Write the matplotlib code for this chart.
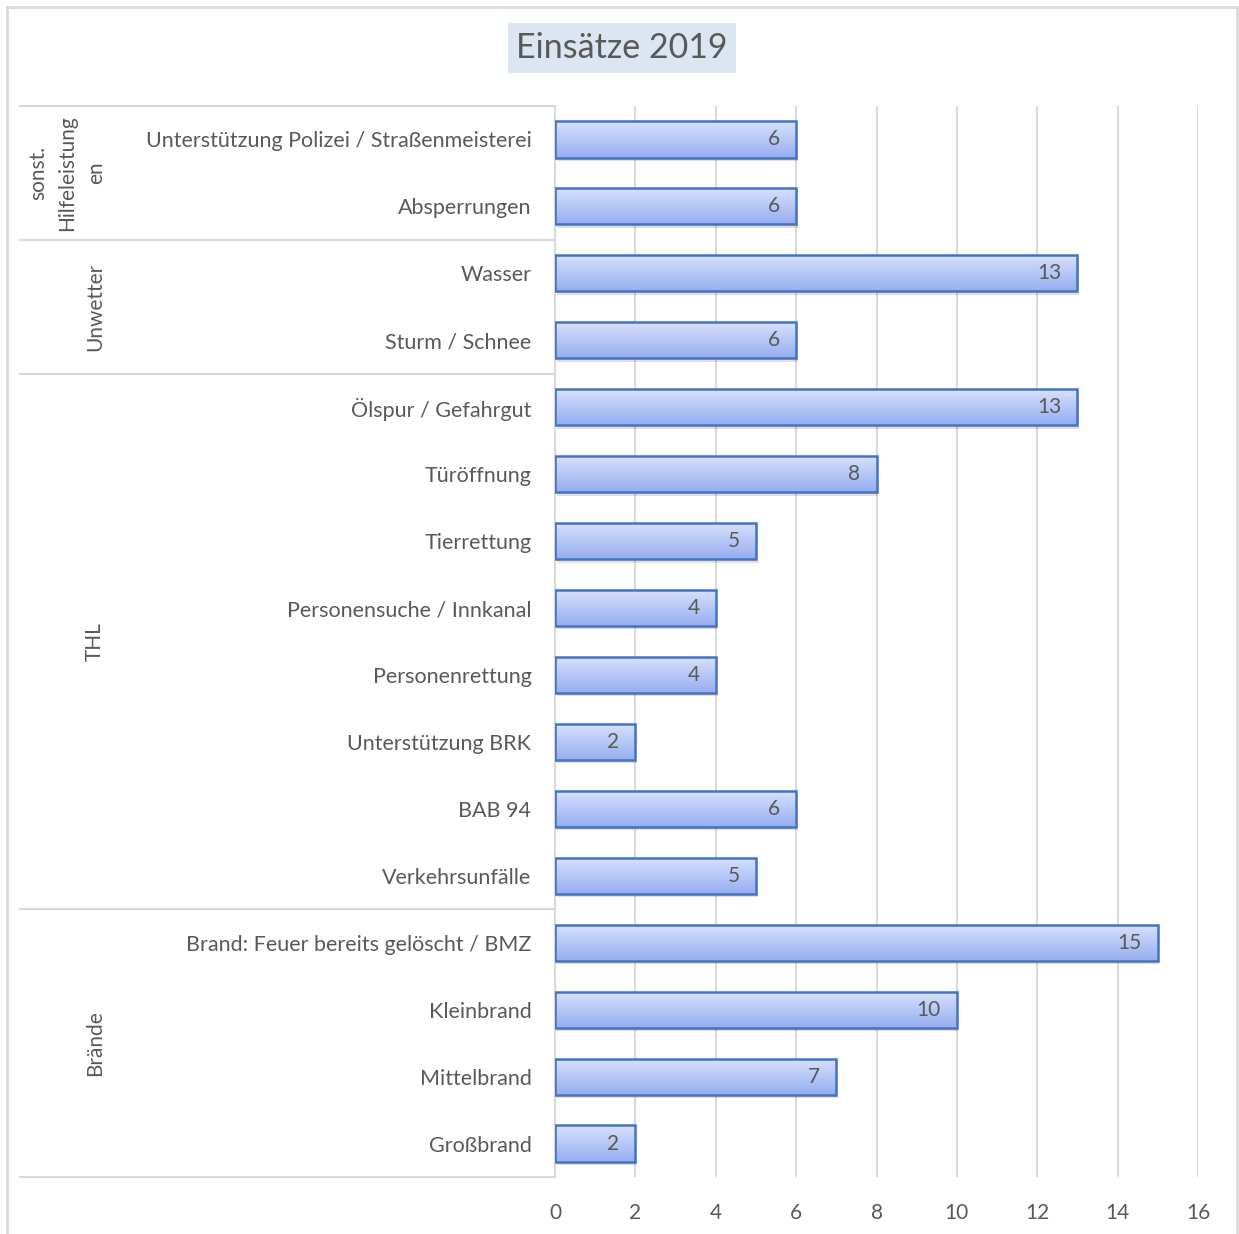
import numpy as np
import matplotlib.pyplot as plt
from matplotlib.patches import Rectangle
from matplotlib.colors import LinearSegmentedColormap
from matplotlib.transforms import blended_transform_factory

plt.rcParams['font.family'] = ['Lato', 'DejaVu Sans']

# categories from bottom to top
categories = ['Großbrand', 'Mittelbrand', 'Kleinbrand', 'Brand: Feuer bereits gelöscht / BMZ',
              'Verkehrsunfälle', 'BAB 94', 'Unterstützung BRK', 'Personenrettung',
              'Personensuche / Innkanal', 'Tierrettung', 'Türöffnung', 'Ölspur / Gefahrgut',
              'Sturm / Schnee', 'Wasser',
              'Absperrungen', 'Unterstützung Polizei / Straßenmeisterei']
values = [2, 7, 10, 15, 5, 6, 2, 4, 4, 5, 8, 13, 6, 13, 6, 6]
groups = ['Brände', 'THL', 'Unwetter', 'sonst.\nHilfeleistung\nen']
group_sizes = [4, 8, 2, 2]
xticks = [0, 2, 4, 6, 8, 10, 12, 14, 16]

W, H = 1239, 1234
text_gray = '#595959'
line_gray = '#d9d9d9'

fig = plt.figure(figsize=(W / 100, H / 100), dpi=100)
ax = fig.add_axes([555 / W, 1 - 1177 / H, (1198 - 555) / W, (1177 - 106) / H])

y = np.arange(len(categories))
bars = ax.barh(y, values, height=0.54, color='none', edgecolor='#4472c4', linewidth=1.8, zorder=3)

# vertical gradient inside each bar
cmap = LinearSegmentedColormap.from_list('bar', ['#96aef0', '#d8e2fc'])
grad = np.linspace(0, 1, 64).reshape(-1, 1)
for b, v in zip(bars, values):
    x0, y0 = b.get_x(), b.get_y()
    w, h = b.get_width(), b.get_height()
    # soft shadow
    ax.add_patch(Rectangle((x0 + 0.04, y0 - 0.05), w, h, facecolor='#000000', alpha=0.12,
                           edgecolor='none', zorder=2))
    im = ax.imshow(grad, cmap=cmap, aspect='auto', origin='lower',
                   extent=(x0, x0 + w, y0, y0 + h), zorder=2.5)
    im.set_clip_path(b)
    ax.text(x0 + w - 0.4, y0 + h / 2, str(v), ha='right', va='center',
            fontsize=15, color=text_gray, zorder=4)

ax.set_xlim(0, 16)
ax.set_ylim(-0.5, len(categories) - 0.5)
ax.set_xticks(xticks)
ax.set_xticklabels([str(t) for t in xticks], fontsize=15, color=text_gray)
ax.tick_params(axis='x', length=0, pad=19)
ax.set_yticks(y)
ax.set_yticklabels(categories, fontsize=15.5, color=text_gray)
ax.tick_params(axis='y', length=0, pad=17)
ax.xaxis.grid(True, color=line_gray, linewidth=1.5, zorder=0)
ax.set_axisbelow(True)
for s in ['top', 'right', 'bottom']:
    ax.spines[s].set_visible(False)
ax.spines['left'].set_color(line_gray)
ax.spines['left'].set_linewidth(1.5)

# group separators and labels on the left
tr = blended_transform_factory(fig.transFigure, ax.transData)
edges = np.concatenate([[0], np.cumsum(group_sizes)]) - 0.5
for e in edges:
    ax.plot([20 / W, 555 / W], [e, e], transform=tr, color=line_gray, lw=1.5, clip_on=False)
for g, lo, hi in zip(groups, edges[:-1], edges[1:]):
    gx = 67 if '\n' in g else 95
    ax.text(gx / W, (lo + hi) / 2, g, transform=tr, rotation=90, ha='center', va='center',
            multialignment='center', fontsize=15, color=text_gray, linespacing=1.55)

# title in a light blue box
fig.text(622 / W, 1 - 48 / H, 'Einsätze 2019', ha='center', va='center', fontsize=24.5,
         color=text_gray, bbox=dict(boxstyle='square,pad=0.25', facecolor='#dce6f2', edgecolor='none'))

# outer frame
fig.patches.append(Rectangle((7 / W, -0.01), (1237 - 7) / W, 1 - 7 / H + 0.01, transform=fig.transFigure,
                             facecolor='none', edgecolor=line_gray, linewidth=2))

fig.savefig('out.png', dpi=100)
